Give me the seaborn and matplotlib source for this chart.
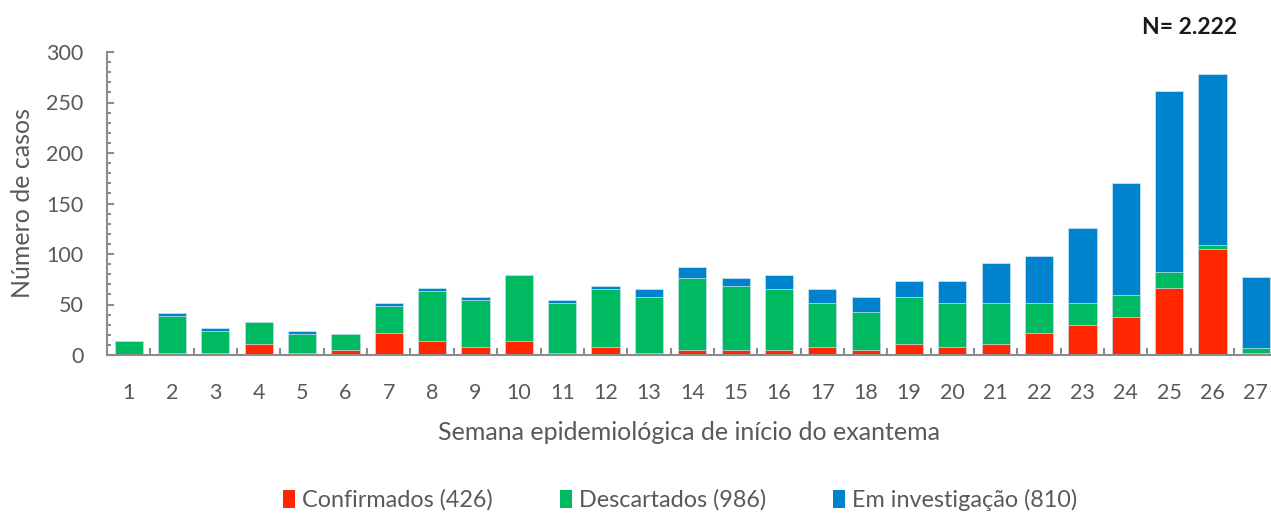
import matplotlib
matplotlib.use("Agg")
import matplotlib.pyplot as plt
from matplotlib.patches import Patch
from matplotlib.ticker import MultipleLocator, FixedLocator
import seaborn as sns
import pandas as pd
import numpy as np

semanas = [str(i) for i in range(1, 28)]
confirmados = [0, 2, 2, 11, 2, 5, 22, 14, 8, 14, 2, 8, 2, 5, 5, 5, 8, 5, 11, 8, 11, 22, 30, 38, 66, 105, 2]
descartados = [14, 37, 22, 22, 19, 16, 27, 49, 46, 65, 49, 57, 55, 71, 63, 60, 43, 38, 46, 43, 40, 29, 21, 21, 16, 4, 5]
investigacao = [0, 3, 3, 0, 3, 0, 2, 3, 3, 0, 3, 3, 8, 11, 8, 14, 14, 14, 16, 22, 40, 47, 75, 111, 179, 169, 70]
labels = ["Confirmados (426)", "Descartados (986)", "Em investigação (810)"]
colors = ["#FF2600", "#00BA62", "#0083CD"]

df = pd.DataFrame({"semana": semanas, "conf": confirmados, "desc": descartados, "inv": investigacao})
df["c1"] = df["conf"]
df["c2"] = df["conf"] + df["desc"]
df["c3"] = df["c2"] + df["inv"]

sns.set_theme(style="white")
plt.rcParams["font.family"] = ["Lato", "DejaVu Sans"]

W, H = 1271, 516
fig = plt.figure(figsize=(W / 100, H / 100), dpi=100)
ax = fig.add_axes([107 / W, (H - 355) / H, (W - 107) / W, 303 / H])

for col, c in zip(["c3", "c2", "c1"], [colors[2], colors[1], colors[0]]):
    sns.barplot(data=df, x="semana", y=col, color=c, width=0.65, ax=ax,
                saturation=1, edgecolor="#cfe6f5", linewidth=0.5, errorbar=None)

ax.set_xlim(-0.5, 26.35)
ax.set_ylim(0, 300)

grey = "#8c8c8c"
for s in ["top", "right"]:
    ax.spines[s].set_visible(False)
for s in ["left", "bottom"]:
    ax.spines[s].set_color(grey)
    ax.spines[s].set_linewidth(1.5)

ax.yaxis.set_major_locator(MultipleLocator(50))
ax.yaxis.set_minor_locator(MultipleLocator(10))
ax.xaxis.set_minor_locator(FixedLocator(np.arange(0.5, 26.5, 1.0)))
ax.tick_params(axis="y", which="major", direction="in", length=5, width=1.5, color=grey,
               labelsize=15.5, labelcolor="#595959", pad=17, left=True)
ax.tick_params(axis="y", which="minor", direction="in", length=3, width=1.5, color=grey, left=True)
ax.tick_params(axis="x", which="major", length=0, labelsize=15.5, labelcolor="#595959", pad=20)
ax.tick_params(axis="x", which="minor", direction="in", length=5, width=1.5, color=grey, bottom=True)

ax.set_xlabel("Semana epidemiológica de início do exantema", fontsize=18, color="#595959", labelpad=13)
ax.set_ylabel("Número de casos", fontsize=18, color="#595959", labelpad=9)

fig.text(1190 / W, 1 - 27 / H, "N= 2.222", fontsize=16.5, fontweight="bold", color="#1a1a1a",
         ha="center", va="center")

handles = [Patch(facecolor=c, edgecolor="none") for c in colors]
fig.legend(handles, labels, loc="center", bbox_to_anchor=(680 / W, 1 - 500 / H), ncol=3,
           frameon=False, fontsize=16.8, labelcolor="#595959", handlelength=0.5, handleheight=0.8,
           handletextpad=0.3, columnspacing=2.9)

fig.savefig("out.png", dpi=100)
